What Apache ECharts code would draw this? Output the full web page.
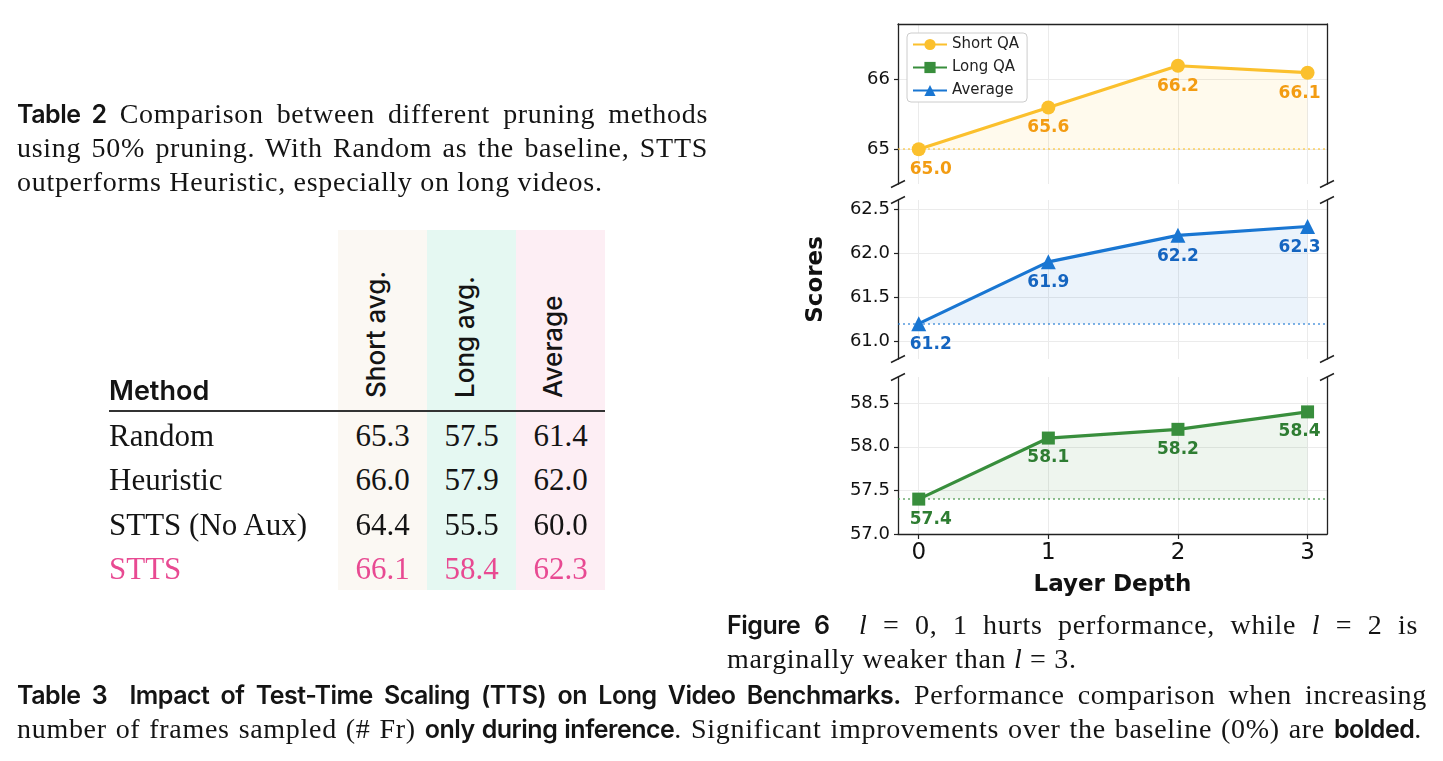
<!DOCTYPE html>
<html><head><meta charset="utf-8">
<script src="https://cdn.jsdelivr.net/npm/echarts@6/dist/echarts.min.js"></script>
<style>
html,body{margin:0;padding:0;background:#fff;width:1443px;height:761px;overflow:hidden;}
#chart{position:absolute;left:0;top:0;width:1443px;height:761px;}
.t{position:absolute;white-space:nowrap;color:#141414;}
.serif{font-family:'Liberation Serif',serif;font-size:28px;line-height:34px;letter-spacing:0.7px;}
.j{text-align:justify;text-align-last:justify;}
.b{font-family:Inter,sans-serif;font-weight:600;letter-spacing:-0.5px;font-size:25px;}
.row{font-family:'Liberation Serif',serif;font-size:31px;line-height:44px;}
.hdr{font-family:Inter,sans-serif;font-weight:500;font-size:26px;line-height:32px;transform-origin:0 0;transform:rotate(-90deg);}
.bg{position:absolute;}
i.m{font-style:italic;}
</style></head>
<body>
<div id="chart"></div>

<div class="t serif j" style="left:17px;top:97px;width:691px"><span class="b">Table 2</span> Comparison between different pruning methods</div>
<div class="t serif j" style="left:17px;top:131px;width:691px">using 50% pruning. With Random as the baseline, STTS</div>
<div class="t serif" style="left:17px;top:165px;">outperforms Heuristic, especially on long videos.</div>

<div id="table"></div>

<div class="t serif j" style="left:727px;top:608px;width:691px"><span class="b" style="margin-right:14px">Figure 6</span> <i class="m">l</i> = 0, 1 hurts performance, while <i class="m">l</i> = 2 is</div>
<div class="t serif" style="left:727px;top:642px;">marginally weaker than <i class="m">l</i> = 3.</div>

<div class="t serif j" style="left:17px;top:678px;width:1410px"><span class="b">Table 3&nbsp; Impact of Test-Time Scaling (TTS) on Long Video Benchmarks.</span> Performance comparison when increasing</div>
<div class="t serif j" style="left:17px;top:712px;width:1405px">number of frames sampled (# Fr) <span class="b">only during inference</span>. Significant improvements over the baseline (0%) are <span class="b">bolded</span>.</div>

<script>
// ---------- Table 2 data ----------
const methods = ['Random', 'Heuristic', 'STTS (No Aux)', 'STTS'];
const shortAvg = [65.3, 66.0, 64.4, 66.1];
const longAvg = [57.5, 57.9, 55.5, 58.4];
const overallAvg = [61.4, 62.0, 60.0, 62.3];
const tableHeaders = ['Short avg.', 'Long avg.', 'Average'];

// ---------- Figure 6 data ----------
const layerDepth = [0, 1, 2, 3];
const shortQA = [65.0, 65.6, 66.2, 66.1];
const averageQA = [61.2, 61.9, 62.2, 62.3];
const longQA = [57.4, 58.1, 58.2, 58.4];
const shortTicks = [65, 66];
const averageTicks = [61.0, 61.5, 62.0, 62.5];
const longTicks = [57.0, 57.5, 58.0, 58.5];
const legendNames = ['Short QA', 'Long QA', 'Average'];

// ---------- build table (HTML text) ----------
(function () {
  const host = document.getElementById('table');
  const colLeft = [338, 427, 516];
  const colW = [89, 89, 89];
  const colBg = ['#fbf8f3', '#e5f8f2', '#fdeef4'];
  const hdrX = [360, 449, 537];
  let html = '';
  colBg.forEach((c, k) => {
    html += `<div class="bg" style="left:${colLeft[k]}px;top:230px;width:${colW[k]}px;height:360px;background:${c}"></div>`;
  });
  html += `<div class="t" style="left:109px;top:375px;font-family:Inter,sans-serif;font-weight:600;font-size:27px;line-height:32px;">Method</div>`;
  html += `<div class="bg" style="left:109px;top:410px;width:496px;height:2px;background:#333"></div>`;
  tableHeaders.forEach((h, k) => {
    html += `<div class="t hdr" style="left:${hdrX[k]}px;top:398px;">${h}</div>`;
  });
  const cols = [shortAvg, longAvg, overallAvg];
  methods.forEach((m, r) => {
    const top = 413.5 + r * 44.6;
    const color = m === 'STTS' ? '#e84a92' : '#141414';
    html += `<div class="t row" style="left:109px;top:${top}px;color:${color}">${m}</div>`;
    cols.forEach((col, k) => {
      html += `<div class="t row" style="left:${colLeft[k]}px;top:${top}px;width:${colW[k]}px;text-align:center;color:${color}">${col[r].toFixed(1)}</div>`;
    });
  });
  host.innerHTML = html;
})();

// ---------- chart ----------
const FONT = 'DejaVu Sans';
const X_MIN = -0.16, X_MAX = 3.15;
const panels = [
  { name: 'Short QA', values: shortQA, ticks: shortTicks, min: 64.5, max: 66.8, top: 24, height: 160,
    line: '#FBC02D', label: '#F39C12', area: 'rgba(251,192,45,0.12)', symbol: 'circle', size: 14, dec: 0 },
  { name: 'Average', values: averageQA, ticks: averageTicks, min: 60.8, max: 62.6, top: 200, height: 159,
    line: '#1976D2', label: '#1565C0', area: 'rgba(25,118,210,0.12)', symbol: 'triangle', size: 15, dec: 1 },
  { name: 'Long QA', values: longQA, ticks: longTicks, min: 57.0, max: 58.8, top: 377, height: 157,
    line: '#388E3C', label: '#2E7D32', area: 'rgba(56,142,60,0.12)', symbol: 'rect', size: 13, dec: 1 }
];
const SPINE = { show: true, onZero: false, lineStyle: { color: '#222', width: 1.3 } };
const GRIDLINE = { show: true, lineStyle: { color: '#ebebeb', width: 1 } };

const grids = [], xAxes = [], yAxes = [], series = [];
panels.forEach((p, i) => {
  const last = i === panels.length - 1;
  grids.push({ left: 898, width: 429, top: p.top, height: p.height });
  xAxes.push({
    type: 'value', gridIndex: i, min: X_MIN, max: X_MAX,
    axisLine: last ? SPINE : { show: false, onZero: false },
    axisTick: { show: last, length: 5, customValues: layerDepth, lineStyle: { color: '#222', width: 1.2 } },
    axisLabel: { show: last, customValues: layerDepth, fontFamily: FONT, fontSize: 23, color: '#111', margin: 8 },
    splitLine: GRIDLINE,
    name: last ? 'Layer Depth' : '', nameLocation: 'middle', nameGap: 40,
    nameTextStyle: { fontFamily: FONT, fontWeight: 'bold', fontSize: 23, color: '#111' }
  });
  yAxes.push({
    type: 'value', gridIndex: i, min: p.min, max: p.max, position: 'left',
    axisLine: SPINE,
    axisTick: { show: true, length: 4, customValues: p.ticks, lineStyle: { color: '#222', width: 1.2 } },
    axisLabel: { customValues: p.ticks, fontFamily: FONT, fontSize: 18, color: '#111', margin: 8,
      formatter: v => Number(v).toFixed(p.dec) },
    splitLine: GRIDLINE,
    name: i === 1 ? 'Scores' : '', nameLocation: 'middle', nameGap: 70,
    nameTextStyle: { fontFamily: FONT, fontWeight: 'bold', fontSize: 23, color: '#111' }
  });
  yAxes.push({
    type: 'value', gridIndex: i, min: p.min, max: p.max, position: 'right',
    axisLine: SPINE, axisTick: { show: false }, axisLabel: { show: false }, splitLine: { show: false }
  });
  const n = p.values.length;
  series.push({
    name: p.name, type: 'line', xAxisIndex: i, yAxisIndex: i * 2,
    data: layerDepth.map((x, k) => {
      const d = { value: [x, p.values[k]] };
      if (k === 0) d.label = { offset: [12, 0] };
      if (k === n - 1) d.label = { offset: [-8, 0] };
      return d;
    }),
    symbol: p.symbol, symbolSize: p.size, z: 3,
    itemStyle: { color: p.line },
    lineStyle: { color: p.line, width: 3.2 },
    areaStyle: { origin: p.values[0], color: p.area },
    label: { show: true, position: 'bottom', distance: 5, fontFamily: FONT, fontWeight: 'bold', fontSize: 17,
      color: p.label, formatter: q => q.value[1].toFixed(1) },
    markLine: { silent: true, symbol: 'none', label: { show: false },
      lineStyle: { color: p.line, width: 1.6, type: [2, 3], opacity: 0.75 },
      data: [{ yAxis: p.values[0] }] },
    emphasis: { disabled: true }, animation: false
  });
});
// top spine of first panel
xAxes.push({ type: 'value', gridIndex: 0, min: X_MIN, max: X_MAX, position: 'top',
  axisLine: SPINE, axisTick: { show: false }, axisLabel: { show: false }, splitLine: { show: false } });

const chart = echarts.init(document.getElementById('chart'));
chart.setOption({
  animation: false,
  backgroundColor: 'transparent',
  grid: grids, xAxis: xAxes, yAxis: yAxes, series: series,
  legend: {
    data: legendNames, orient: 'vertical', left: 907, top: 33,
    itemWidth: 34, itemHeight: 14, itemGap: 8,
    padding: [4, 8, 4, 5], borderColor: '#cccccc', borderWidth: 1, borderRadius: 4, backgroundColor: '#fff',
    textStyle: { fontFamily: FONT, fontSize: 15, color: '#222' }
  }
});

// axis-break marks, placed from the grid corners
const breaks = [[0, 'min'], [1, 'max'], [1, 'min'], [2, 'max']];
const marks = [];
breaks.forEach(([gi, side]) => {
  const p = panels[gi];
  const yv = side === 'min' ? p.min : p.max;
  [X_MIN, X_MAX].forEach(xv => {
    const pt = chart.convertToPixel({ xAxisIndex: gi, yAxisIndex: gi * 2 }, [xv, yv]);
    marks.push({ type: 'line', silent: true, z: 10,
      shape: { x1: pt[0] - 7, y1: pt[1] + 3.5, x2: pt[0] + 7, y2: pt[1] - 3.5 },
      style: { stroke: '#222', lineWidth: 1.5 } });
  });
});
chart.setOption({ graphic: marks });
</script>
</body></html>
